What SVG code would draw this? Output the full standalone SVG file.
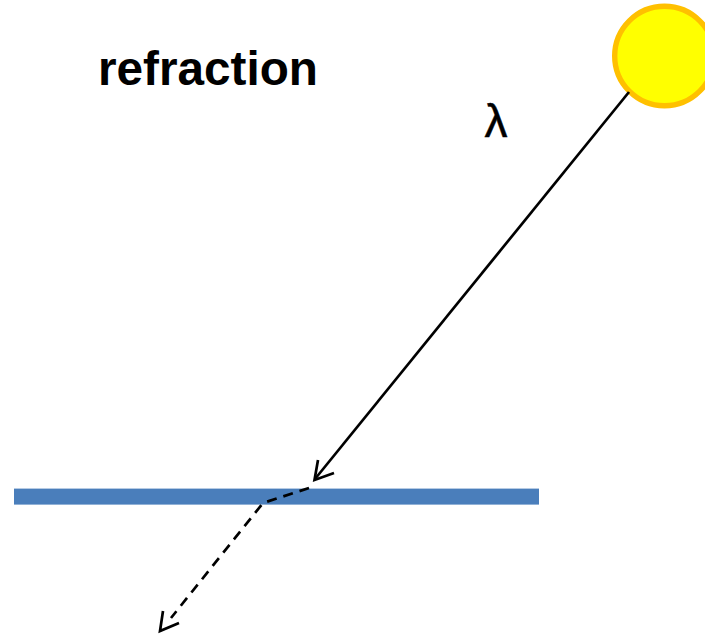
<svg xmlns="http://www.w3.org/2000/svg" width="705" height="634" viewBox="0 0 705 634">
<style>
.t{font-family:"Liberation Sans",Arial,sans-serif;fill:#000}
.l{fill:none;stroke:#000;stroke-width:2.7}
</style>
<rect width="705" height="634" fill="#fff"/>
<g id="surface"><rect x="14" y="488.600" width="525" height="16" fill="#4a7ebb"/></g>
<g id="sun"><circle cx="664.5" cy="56" r="49.8" fill="#ffff00" stroke="#ffc000" stroke-width="5.4"/></g>
<g id="connectors">
<path class="l" d="M629 92L315 479"/>
<path class="l" d="M318 460L314.500 480L334 473"/>
<path class="l" stroke-dasharray="10 7" d="M309 488L263 503L171 618"/>
<path class="l" d="M163 611L160 631L179 623"/>
</g>
<g id="title"><text class="t" x="98" y="85" font-size="47.700" font-weight="700">refraction</text></g>
<g id="lambda"><text class="t" x="484.500" y="137" font-size="46" stroke="#000" stroke-width="0.5">λ</text></g>
</svg>
